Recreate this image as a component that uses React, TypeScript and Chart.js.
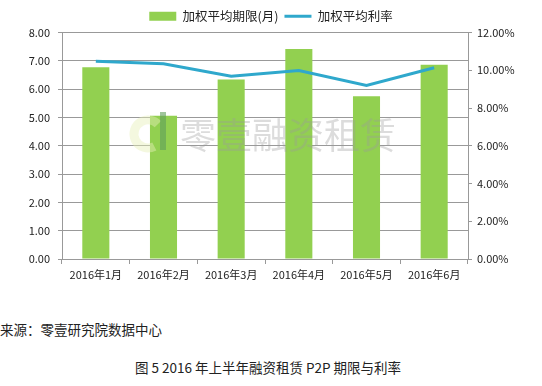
import React, { useEffect, useRef } from "react";
import { Chart, registerables } from "chart.js";

Chart.register(...registerables);

const categories = ["2016年1月", "2016年2月", "2016年3月", "2016年4月", "2016年5月", "2016年6月"];
const termMonths = [6.77, 5.06, 6.34, 7.42, 5.75, 6.86];
const ratePct = [10.48, 10.34, 9.68, 9.98, 9.2, 10.13];
const barLabel = "加权平均期限(月)";
const lineLabel = "加权平均利率";
const sourceText = "来源：零壹研究院数据中心";
const captionText = "图 5 2016 年上半年融资租赁 P2P 期限与利率";
const watermarkText = "零壹融资租赁";

const FONT = "'Noto Sans CJK SC', 'Noto Sans', sans-serif";

const watermarkPlugin = {
  id: "watermark",
  afterDatasetsDraw(chart: any) {
    const ctx = chart.ctx;
    ctx.save();
    ctx.globalAlpha = 0.45;
    ctx.strokeStyle = "#e6efb8";
    ctx.lineWidth = 9;
    ctx.beginPath();
    ctx.arc(148, 134, 14, Math.PI * 0.35, Math.PI * 1.75, false);
    ctx.stroke();
    ctx.fillStyle = "#5f9f5a";
    ctx.globalAlpha = 0.6;
    ctx.fillRect(160, 112, 6, 38);
    ctx.globalAlpha = 0.35;
    ctx.fillStyle = "#9a9a9a";
    ctx.font = `36px ${FONT}`;
    ctx.textBaseline = "middle";
    ctx.textAlign = "left";
    ctx.fillText(watermarkText, 180, 135);
    ctx.restore();
  },
};

export default function App() {
  const ref = useRef<HTMLCanvasElement>(null);
  useEffect(() => {
    if (!ref.current) return;
    const chart = new Chart(ref.current, {
      type: "bar",
      data: {
        labels: categories,
        datasets: [
          {
            type: "bar",
            label: barLabel,
            data: termMonths,
            backgroundColor: "#92d050",
            borderWidth: 0,
            barPercentage: 0.4,
            categoryPercentage: 1,
            yAxisID: "y",
            order: 2,
            pointStyle: "rect",
          } as any,
          {
            type: "line",
            label: lineLabel,
            data: ratePct,
            borderColor: "#2fa8cc",
            backgroundColor: "#2fa8cc",
            borderWidth: 3,
            pointRadius: 0,
            pointStyle: "line",
            tension: 0,
            yAxisID: "y1",
            order: 1,
          } as any,
        ],
      },
      options: {
        animation: false,
        responsive: false,
        maintainAspectRatio: false,
        layout: { padding: { top: 4, left: 0, right: 0, bottom: 0 } },
        plugins: {
          legend: {
            position: "top",
            labels: {
              usePointStyle: true,
              pointStyleWidth: 27,
              boxHeight: 9,
              padding: 6,
              color: "#222",
              font: { family: FONT, size: 12.5 },
              sort: (a: any, b: any) => a.datasetIndex - b.datasetIndex,
            },
          },
          tooltip: { enabled: false },
        },
        scales: {
          x: {
            grid: {
              drawOnChartArea: false,
              drawTicks: true,
              tickLength: 5,
              color: "#999",
              offset: true,
            },
            border: { color: "#999" },
            ticks: { color: "#222", font: { family: FONT, size: 11 }, padding: 4, maxRotation: 0 },
            afterFit(scale: any) {
              scale.height = 31;
            },
          },
          y: {
            position: "left",
            min: 0,
            max: 8,
            ticks: {
              stepSize: 1,
              color: "#222",
              padding: 8,
              font: { family: FONT, size: 11 },
              callback: (v: any) => Number(v).toFixed(2),
            },
            grid: { color: "#999", tickLength: 4 },
            border: { color: "#999" },
            afterFit(scale: any) {
              scale.width = 62;
            },
          },
          y1: {
            position: "right",
            min: 0,
            max: 12,
            ticks: {
              stepSize: 2,
              color: "#222",
              padding: 5,
              font: { family: FONT, size: 11 },
              callback: (v: any) => Number(v).toFixed(2) + "%",
            },
            grid: { drawOnChartArea: false, color: "#999", tickLength: 4 },
            border: { color: "#999" },
            afterFit(scale: any) {
              scale.width = 74;
            },
          },
        },
      } as any,
      plugins: [watermarkPlugin],
    });
    return () => chart.destroy();
  }, []);

  return (
    <div style={{ position: "absolute", left: 0, top: 0, width: 542, height: 386, background: "#fff", fontFamily: FONT }}>
      <canvas ref={ref} width={542} height={290} style={{ position: "absolute", left: 0, top: 0 }} />
      <div style={{ position: "absolute", left: 0, top: 319, fontSize: 13.5, color: "#222", whiteSpace: "nowrap", lineHeight: "20px" }}>
        {sourceText}
      </div>
      <div style={{ position: "absolute", left: 0, width: 536, top: 357, textAlign: "center", fontSize: 13.5, color: "#222", whiteSpace: "nowrap", lineHeight: "20px" }}>
        {captionText}
      </div>
    </div>
  );
}
